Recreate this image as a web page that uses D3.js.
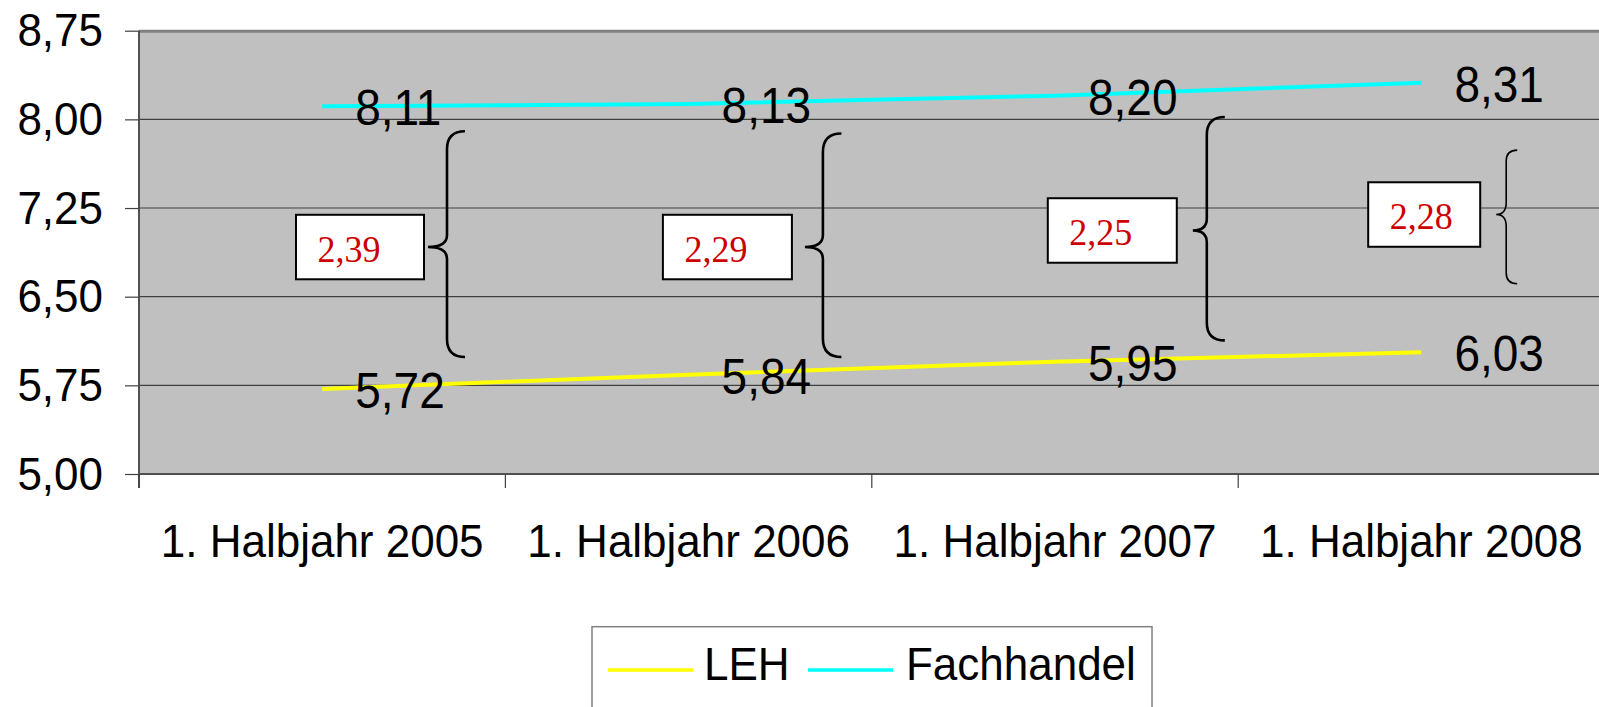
<!DOCTYPE html>
<html>
<head>
<meta charset="utf-8">
<script src="https://cdn.jsdelivr.net/npm/d3@7"></script>
<style>
  html, body { margin: 0; padding: 0; background: #fff; }
  svg { display: block; }
</style>
</head>
<body>
<svg id="chart" width="1599" height="707" font-family="'Liberation Sans', Arial, sans-serif"></svg>
<script>
// ---- data ----
const categories = ["1. Halbjahr 2005", "1. Halbjahr 2006", "1. Halbjahr 2007", "1. Halbjahr 2008"];
const lehValues = [5.72, 5.84, 5.95, 6.03];
const fachhandelValues = [8.11, 8.13, 8.20, 8.31];
const diffLabels = ["2,39", "2,29", "2,25", "2,28"];
const yTicks = [5.00, 5.75, 6.50, 7.25, 8.00, 8.75];
const seriesNames = ["LEH", "Fachhandel"];
// brace extents (value units) and box centres (value units) for the difference annotations
const braceTop = [7.90, 7.88, 8.02, 7.74];
const braceBottom = [5.99, 5.99, 6.13, 6.61];
const boxCenter = [6.92, 6.92, 7.06, 7.195];

// ---- layout (pixels) ----
const boxLayout = [
  { left: 157, width: 128, point: 289, stem: 308, tip: 326, sw: 2.6 },
  { left: 157.5, width: 129, point: 299.5, stem: 317.5, tip: 336, sw: 2.6 },
  { left: 176, width: 129, point: 321, stem: 335, tip: 353, sw: 2.6 },
  { left: 130, width: 112, point: 258, stem: 268, tip: 279, sw: 1.6 }
];
const SANS = "'Liberation Sans', Arial, sans-serif";
const SERIF = "'Liberation Serif', 'Times New Roman', serif";
const STRETCH = 1.07;

const fmt = v => d3.format(".2f")(v).replace(".", ",");
const svg = d3.select("#chart");

const x = d3.scaleBand().domain(categories).range([139, 139 + 4 * 366.4]).padding(0);
const y = d3.scaleLinear().domain([5, 8.75]).range([474, 30.7]);
const cx = c => x(c) + x.bandwidth() / 2;

// helper: stretched text at position
function sText(g, tx, ty, str, size, anchor) {
  return g.append("text")
    .attr("transform", `translate(${tx},${ty}) scale(1,${STRETCH})`)
    .attr("text-anchor", anchor || "start")
    .style("font-family", SANS).style("font-size", size + "px")
    .attr("fill", "#000").text(str);
}

// plot background
svg.append("rect")
  .attr("x", x.range()[0]).attr("y", y(8.75))
  .attr("width", x.range()[1] - x.range()[0]).attr("height", y(5) - y(8.75))
  .attr("fill", "#c0c0c0");

// gridlines
svg.append("g").selectAll("line").data(yTicks.filter(t => t > 5 && t < 8.75)).join("line")
  .attr("x1", x.range()[0]).attr("x2", x.range()[1])
  .attr("y1", d => y(d)).attr("y2", d => y(d))
  .attr("stroke", "#404040").attr("stroke-width", 1.2);

// top border
svg.append("line")
  .attr("x1", x.range()[0]).attr("x2", x.range()[1])
  .attr("y1", y(8.75) + 0.5).attr("y2", y(8.75) + 0.5)
  .attr("stroke", "#808080").attr("stroke-width", 3);

// y axis
const yAxis = d3.axisLeft(y).tickValues(yTicks).tickFormat(fmt).tickSize(14).tickPadding(22);
const gy = svg.append("g").attr("transform", "translate(139,0)").call(yAxis);
gy.select(".domain").attr("stroke", "#505050").attr("stroke-width", 2)
  .attr("d", `M0,${y(8.75)}V${y(5) + 14}`);
gy.selectAll(".tick line").attr("stroke", "#404040").attr("stroke-width", 1.2);
gy.selectAll(".tick text")
  .style("font-family", SANS).style("font-size", "44px").attr("fill", "#000")
  .attr("dy", "0.32em").attr("transform", `scale(1,${STRETCH})`);

// x axis line
svg.append("line")
  .attr("x1", x.range()[0]).attr("x2", x.range()[1])
  .attr("y1", y(5)).attr("y2", y(5))
  .attr("stroke", "#505050").attr("stroke-width", 2.2);

// x axis boundary ticks
const boundaries = categories.map(c => x(c));
svg.append("g").selectAll("line").data(boundaries).join("line")
  .attr("x1", d => d).attr("x2", d => d)
  .attr("y1", y(5)).attr("y2", y(5) + 14)
  .attr("stroke", "#404040").attr("stroke-width", 1.2);

// x axis labels
const xAxis = d3.axisBottom(x).tickSize(0).tickPadding(0);
const gx = svg.append("g").attr("transform", `translate(0,${y(5)})`).call(xAxis);
gx.select(".domain").remove();
gx.selectAll(".tick text")
  .style("font-family", SANS).style("font-size", "44px").attr("fill", "#000")
  .attr("y", 0).attr("dy", 0)
  .attr("transform", `translate(0,83) scale(1,${STRETCH})`);

// lines
const lineGen = d3.line().x((d, i) => cx(categories[i])).y(d => y(d));
const series = [
  { name: seriesNames[0], values: lehValues, color: "#ffff00" },
  { name: seriesNames[1], values: fachhandelValues, color: "#00ffff" }
];
series.forEach(s => {
  svg.append("path").datum(s.values)
    .attr("d", lineGen).attr("fill", "none")
    .attr("stroke", s.color).attr("stroke-width", 4);
});

// data labels
const lbl = svg.append("g");
series.forEach(s => {
  s.values.forEach((v, i) => {
    sText(lbl, cx(categories[i]) + 33, y(v) + 19, fmt(v), 46);
  });
});

// braces
categories.forEach((c, i) => {
  const L = boxLayout[i];
  const px = x(c) + L.point, sx = x(c) + L.stem, tx = x(c) + L.tip;
  const top = y(braceTop[i]), bot = y(braceBottom[i]);
  const mid = y(boxCenter[i]);
  const r = tx - sx, r2 = 12;
  const d = `M${tx},${top} Q${sx},${top} ${sx},${top + r} L${sx},${mid - r2} ` +
    `Q${sx},${mid} ${px},${mid} Q${sx},${mid} ${sx},${mid + r2} ` +
    `L${sx},${bot - r} Q${sx},${bot} ${tx},${bot}`;
  svg.append("path").attr("d", d).attr("fill", "none")
    .attr("stroke", "#000").attr("stroke-width", L.sw);
});

// difference boxes
categories.forEach((c, i) => {
  const L = boxLayout[i];
  const bx = x(c) + L.left, h = 64.5;
  const by = y(boxCenter[i]) - h / 2;
  svg.append("rect").attr("x", bx).attr("y", by).attr("width", L.width).attr("height", h)
    .attr("fill", "#fff").attr("stroke", "#000").attr("stroke-width", 2);
  svg.append("text")
    .attr("transform", `translate(${bx + 21.5},${by + 47}) scale(1,1.08)`)
    .style("font-family", SERIF).style("font-size", "36px")
    .attr("fill", "#cc0000")
    .text(diffLabels[i]);
});

// legend
const lg = svg.append("g");
lg.append("rect").attr("x", 592).attr("y", 626.7).attr("width", 560).attr("height", 110)
  .attr("fill", "#fff").attr("stroke", "#808080").attr("stroke-width", 1.5);
const legendItems = [
  { name: seriesNames[0], color: "#ffff00", x1: 608, tx: 704 },
  { name: seriesNames[1], color: "#00ffff", x1: 808, tx: 906 }
];
legendItems.forEach(it => {
  lg.append("line").attr("x1", it.x1).attr("x2", it.x1 + 85).attr("y1", 670).attr("y2", 670)
    .attr("stroke", it.color).attr("stroke-width", 3.3);
  sText(lg, it.tx, 680, it.name, 44);
});
</script>
</body>
</html>
